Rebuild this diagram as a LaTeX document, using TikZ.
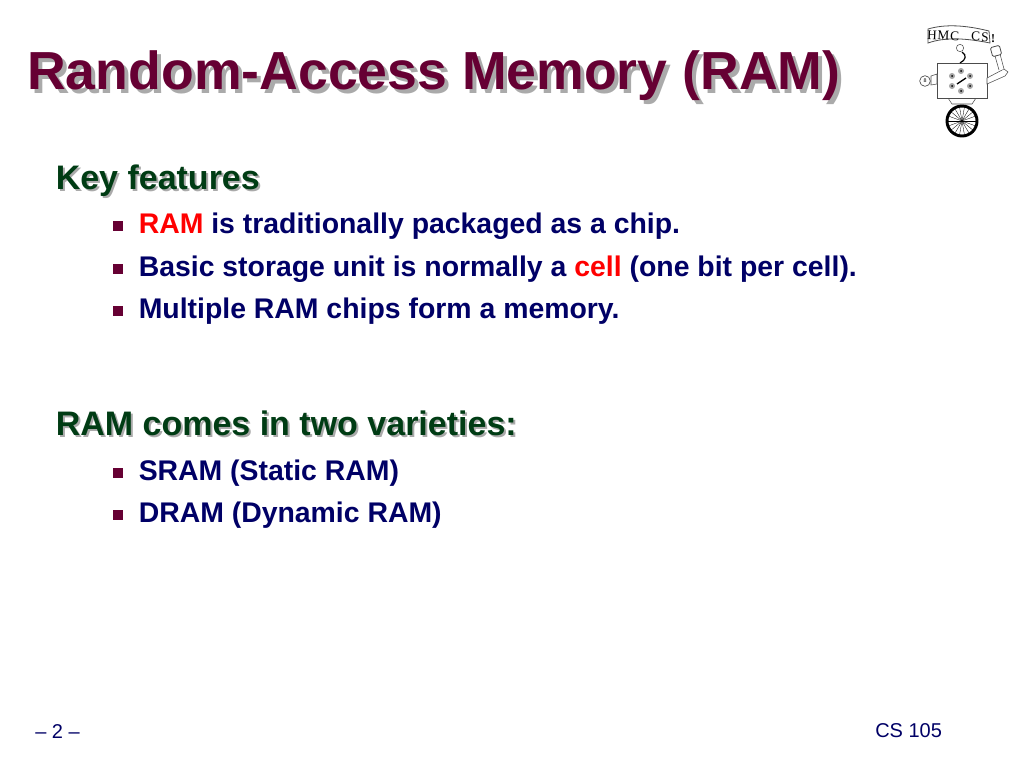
\documentclass[tikz,border=0pt]{standalone}
\usepackage{fontspec}
\setmainfont{Liberation Sans}
\newfontfamily\logofont{Liberation Serif}
\usetikzlibrary{positioning,calc}
\definecolor{titlered}{RGB}{102,0,51}
\definecolor{headgreen}{RGB}{0,60,20}
\definecolor{bodyblue}{RGB}{0,0,102}
\definecolor{shadowgray}{RGB}{170,170,170}
\begin{document}
\begin{tikzpicture}[
	x=0.75pt,y=-0.75pt,
	title/.style={anchor=base west,inner sep=0pt,font=\fontsize{40.2}{40}\selectfont\bfseries},
	head/.style={anchor=base west,inner sep=0pt,font=\fontsize{25.5}{26}\selectfont\bfseries},
	item/.style={anchor=base west,inner sep=0pt,text=bodyblue,font=\fontsize{21.3}{22}\selectfont\bfseries},
	bullet/.style={draw=none,fill=titlered,minimum size=7.5pt,inner sep=0pt},
	foot/.style={anchor=base west,inner sep=0pt,text=bodyblue,font=\fontsize{15}{15}\selectfont},
	logo/.style={draw=black!70,line width=0.4pt,fill=white}
	]
	\useasboundingbox (0,0) rectangle (1024,768);
	
	% Title
	\node[title,text=shadowgray] (titleshadow) at (31,93) {Random-Access Memory (RAM)};
	\node[title,text=titlered] (titletext) at (27,89) {Random-Access Memory (RAM)};
	
	% Key features
	\node[head,text=shadowgray] (keyshadow) at (57.5,191) {Key features};
	\node[head,text=headgreen] (keyhead) at (55.5,189) {Key features};
	\node[bullet] (b1) at (118,226) {};
	\node[item] (i1) at (138.5,233) {\textcolor{red}{RAM} is traditionally packaged as a chip.};
	\node[bullet] (b2) at (118,268.5) {};
	\node[item] (i2) at (138.5,276) {Basic storage unit is normally a \textcolor{red}{cell} (one bit per cell).};
	\node[bullet] (b3) at (118,311) {};
	\node[item] (i3) at (138.5,318.5) {Multiple RAM chips form a memory.};
	
	% Varieties
	\node[head,text=shadowgray] (ramshadow) at (57.5,437) {RAM comes in two varieties:};
	\node[head,text=headgreen] (ramhead) at (55.5,435) {RAM comes in two varieties:};
	\node[bullet] (b4) at (118,472.5) {};
	\node[item] (i4) at (138.5,480) {SRAM (Static RAM)};
	\node[bullet] (b5) at (118,515) {};
	\node[item] (i5) at (138.5,522.5) {DRAM (Dynamic RAM)};
	
	% Footer
	\node[foot] (pagenum) at (35,738) {– 2 –};
	\node[foot] (course) at (875,737) {CS 105};
	
	% Logo
	\draw[logo] (948,98) -- (952,104) -- (972,104) -- (976,98);
	\draw[logo] (937,63) rectangle (987,98);
	\node[logo,circle,minimum size=8pt,inner sep=0pt,line width=0.5pt] (lamp) at (925,81) {};
	\node[inner sep=0pt,font=\fontsize{4}{4}\selectfont] (lampmark) at (925,81) {8};
	\draw[logo] (931,76) -- (937,74) -- (937,84) -- (931,85) -- cycle;
	\draw[logo] (987,78) -- (1004,69) -- (1008,72) -- (1005,76) -- (987,84) -- cycle;
	\draw[logo] (1004,69) -- (1000,54) -- (995,56) -- (999,70);
	\node[logo,rectangle,rounded corners=1pt,minimum size=7pt,inner sep=0pt,rotate=15,line width=0.6pt] (hand) at (996,51) {};
	\node[logo,circle,minimum size=5.5pt,inner sep=0pt] (head) at (960,48) {};
	\draw[black,line width=0.9pt] (962,52) .. controls (967,55) and (966,60) .. (960,63);
	\draw[logo,line width=0.6pt] (928,29) .. controls (945,24) and (965,25) .. (989,31) -- (990,43) .. controls (965,38) and (945,37) .. (928,43) -- cycle;
	\node[inner sep=0pt,font=\logofont\fontsize{10}{10}\selectfont,rotate=-2] (logotext) at (958,36) {H\hspace{0.6pt}M\hspace{0.6pt}C\hspace{9pt}C\hspace{1pt}S};
	\node[inner sep=0pt,font=\logofont\bfseries\fontsize{9}{9}\selectfont] (logobang) at (993,39) {!};
	\foreach \dx/\dy in {0/-10,9/-5,9/5,0/10,-9/5,-9/-5} {
		\fill[black!35] ($(961,81)+(\dx,\dy)$) circle (3);
		\fill[black] ($(961,81)+(\dx,\dy)$) circle (1);
	}
	\draw[black,line width=1pt] (957,84) -- (966,78);
	\foreach \a in {0,20,...,340} {
		\draw[black,line width=0.25pt] (962,121) -- ++(\a:15);
	}
	\draw[black,line width=2.2pt] (962,121) circle (15);
\end{tikzpicture}
\end{document}
